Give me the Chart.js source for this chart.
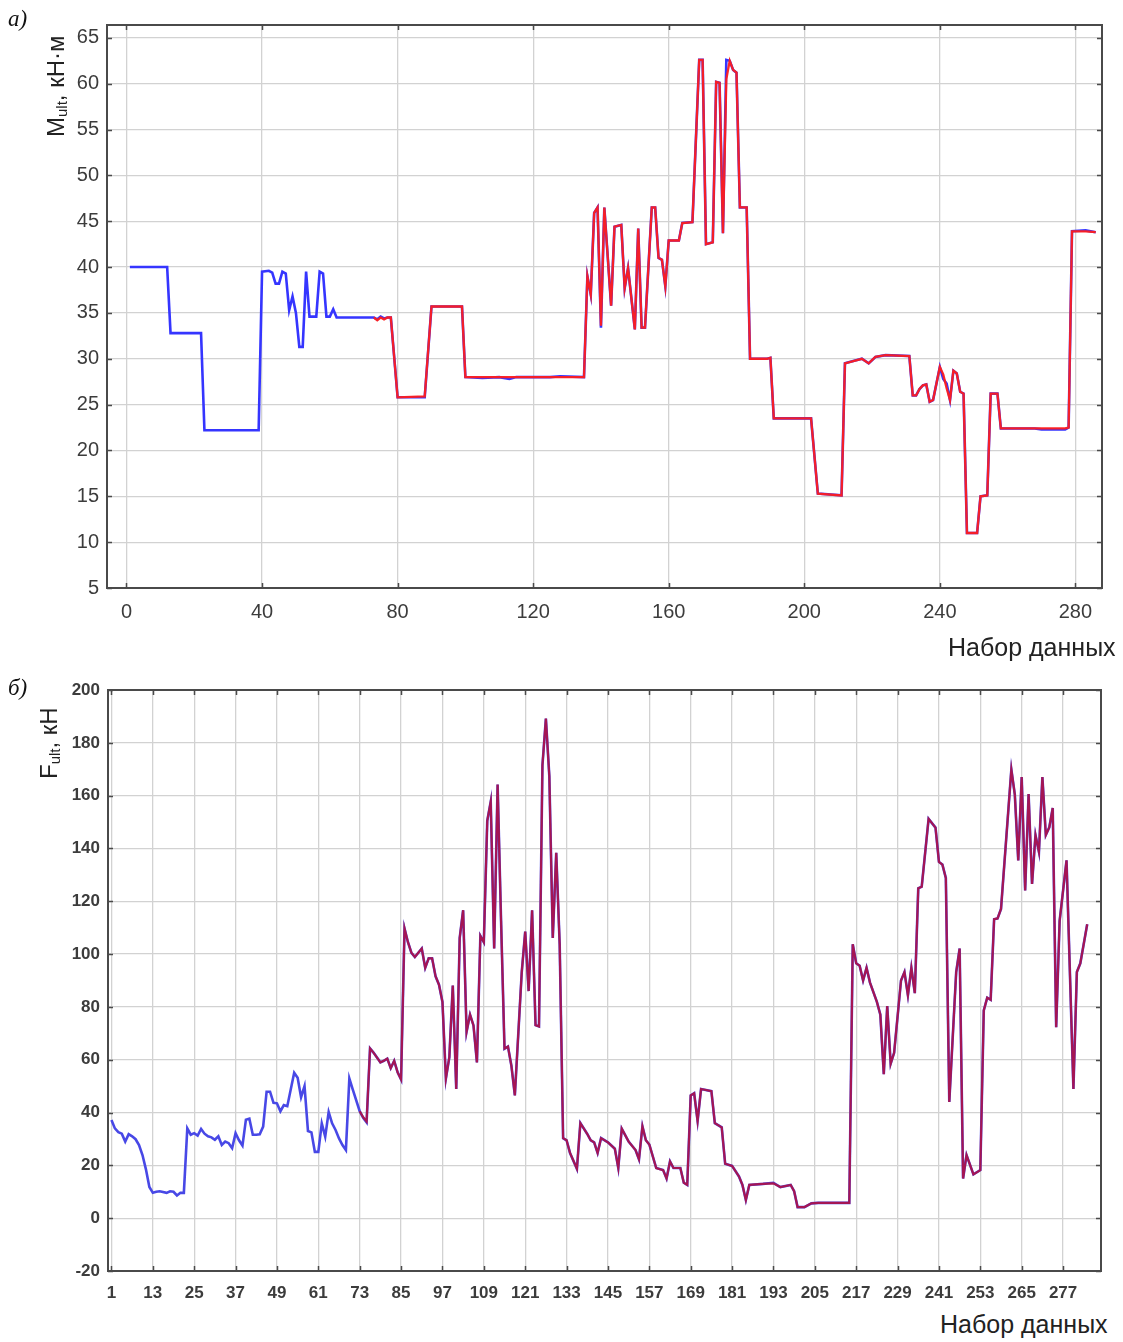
<!DOCTYPE html>
<html>
<head>
<meta charset="utf-8">
<script src="https://cdn.jsdelivr.net/npm/chart.js@4.4.1/dist/chart.umd.min.js"></script>
<style>
  html, body { margin: 0; padding: 0; background: #fff; width: 1123px; height: 1342px; overflow: hidden; position: relative;
    font-family: Arial, "Liberation Sans", sans-serif; }
  .box { position: absolute; left: 0; width: 1123px; }
  #boxA { top: 0; height: 640px; }
  #boxB { top: 665px; height: 640px; }
  .tag { position: absolute; font: italic 23px "Liberation Serif", "DejaVu Serif", serif; color: #111; }
  .ytitle { position: absolute; transform-origin: left top; transform: rotate(-90deg); white-space: nowrap;
    font-size: 24px; color: #222; line-height: 26px; }
  .ytitle sub { font-size: 15px; vertical-align: -3px; }
  .xtitle { position: absolute; white-space: nowrap; font-size: 25px; color: #222; }
</style>
</head>
<body>
<div class="box" id="boxA"><canvas id="chartA"></canvas></div>
<div class="box" id="boxB"><canvas id="chartB"></canvas></div>

<span class="tag" style="left:8px;top:6px">а)</span>
<span class="tag" style="left:8px;top:675px">б)</span>
<div class="ytitle" style="left:43px;top:137px">M<sub>ult</sub>, кН·м</div>
<div class="ytitle" style="left:36px;top:779px">F<sub>ult</sub>, кН</div>
<span class="xtitle" style="left:948px;top:633px">Набор данных</span>
<span class="xtitle" style="left:940px;top:1310px">Набор данных</span>

<script>
/* а) M_ult — experimental (blue) vs predicted (red), vertices [index, value] */
const XA_TICKS = [0, 40, 80, 120, 160, 200, 240, 280];
const YA_TICKS = [5, 10, 15, 20, 25, 30, 35, 40, 45, 50, 55, 60, 65];
const MA_ACTUAL = [
  [1,40.0],[12,40.0],[13,32.8],[22,32.8],[23,22.2],[39,22.2],[40,39.5],[42,39.6],[43,39.4],[44,38.2],
  [45,38.2],[46,39.5],[47,39.3],[48,35.3],[49,36.8],[50,35.0],[51,31.3],[52,31.3],[53,39.5],[54,34.6],
  [56,34.6],[57,39.5],[58,39.3],[59,34.6],[60,34.6],[61,35.4],[62,34.5],[72,34.5],
  [73,34.5],[74,34.3],[75,34.6],[76,34.4],[77,34.5],[78,34.5],[80,25.8],[88,25.8],[90,35.7],[99,35.7],
  [100,28.0],[105,27.9],[110,28.0],[113,27.8],[115,28.0],[125,28.0],[128,28.1],[135,28.0],[136,39.0],[137,37.0],
  [138,45.9],[139,46.5],[140,33.4],[141,46.5],[143,35.8],[144,44.4],[146,44.6],[147,37.7],[148,39.9],[150,33.2],
  [151,44.2],[152,33.4],[153,33.4],[155,46.5],[156,46.5],[157,41.0],[158,40.8],[159,37.9],[160,42.9],[163,42.9],
  [164,44.8],[167,44.9],[169,62.6],[170,62.6],[171,42.5],[173,42.7],[174,60.2],[175,60.1],[176,43.7],[177,62.6],
  [178,62.5],[179,61.5],[180,61.2],[181,46.5],[183,46.5],[184,30.0],[189,30.0],[190,30.1],[191,23.5],[202,23.5],
  [204,15.3],[211,15.1],[212,29.5],[215,29.8],[217,30.0],[219,29.5],[221,30.2],[224,30.4],[231,30.3],[232,26.0],
  [233,26.0],[234,26.7],[235,27.1],[236,27.2],[237,25.3],[238,25.5],[240,29.1],[241,27.8],[242,27.3],[243,25.5],
  [244,28.7],[245,28.4],[246,26.4],[247,26.2],[248,11.0],[251,11.0],[252,15.0],[254,15.1],[255,26.2],[257,26.2],
  [258,22.4],[268,22.4],[270,22.3],[277,22.3],[278,22.5],[279,43.9],[283,44.0],[286,43.8]
];
const MA_PRED = [
  [73,34.5],[74,34.2],[75,34.5],[76,34.3],[77,34.5],[78,34.5],[80,25.8],[88,25.9],[90,35.7],[99,35.7],
  [100,28.0],[105,28.0],[110,28.0],[113,28.0],[115,28.0],[125,28.0],[128,28.0],[135,28.0],[136,39.0],[137,37.0],
  [138,45.9],[139,46.5],[140,33.6],[141,46.5],[143,35.8],[144,44.4],[146,44.6],[147,37.7],[148,39.9],[150,33.2],
  [151,44.2],[152,33.4],[153,33.4],[155,46.5],[156,46.5],[157,41.0],[158,40.8],[159,37.9],[160,42.9],[163,42.9],
  [164,44.8],[167,44.9],[169,62.6],[170,62.6],[171,42.5],[173,42.7],[174,60.2],[175,60.1],[176,43.7],[177,60.5],
  [178,62.5],[179,61.5],[180,61.2],[181,46.5],[183,46.5],[184,30.0],[189,30.0],[190,30.1],[191,23.5],[202,23.5],
  [204,15.3],[211,15.1],[212,29.5],[215,29.8],[217,30.0],[219,29.5],[221,30.2],[224,30.4],[231,30.3],[232,26.0],
  [233,26.0],[234,26.7],[235,27.1],[236,27.2],[237,25.3],[238,25.5],[240,29.1],[241,28.3],[242,26.8],[243,25.5],
  [244,28.7],[245,28.4],[246,26.4],[247,26.2],[248,11.0],[251,11.0],[252,15.0],[254,15.1],[255,26.2],[257,26.2],
  [258,22.4],[268,22.4],[270,22.4],[277,22.4],[278,22.5],[279,43.9],[283,43.9],[286,43.8]
];

/* б) F_ult — experimental (blue) vs predicted (red) */
const XB_TICKS = [1, 13, 25, 37, 49, 61, 73, 85, 97, 109, 121, 133, 145, 157, 169, 181, 193, 205, 217, 229, 241, 253, 265, 277];
const YB_TICKS = [-20, 0, 20, 40, 60, 80, 100, 120, 140, 160, 180, 200];
const MB_ACTUAL = [
  [1,37.2],[2,34.0],[3,32.6],[4,32.0],[5,29.0],[6,31.8],[7,31.0],[8,29.9],[9,27.7],[10,23.9],
  [11,18.5],[12,11.8],[13,9.6],[14,10.0],[15,10.2],[17,9.6],[18,10.2],[19,10.0],[20,8.6],[21,9.6],
  [22,9.6],[23,34.0],[24,31.6],[25,32.2],[26,31.3],[27,33.8],[28,32.0],[29,31.0],[30,30.6],[31,29.7],
  [32,31.0],[33,27.7],[34,29.0],[35,28.4],[36,26.5],[37,32.2],[38,29.5],[39,27.5],[40,37.3],[41,37.7],
  [42,31.6],[43,31.6],[44,31.8],[45,34.7],[46,47.9],[47,47.9],[48,43.7],[49,43.5],[50,40.5],[51,42.8],
  [52,42.4],[54,55.1],[55,53.2],[56,45.8],[57,50.0],[58,33.0],[59,32.5],[60,25.1],[61,25.1],
  [62,35.9],[63,30.9],[64,40.2],[65,35.9],[66,33.4],[67,30.2],[68,27.7],[69,25.8],[70,52.9],[71,48.7],
  [73,40.5],[74,38.0],[75,36.3],[76,64.3],[77,62.7],[79,59.0],[80,59.6],[81,60.4],[82,56.8],[83,59.6],[84,55.2],
  [85,52.5],[86,109.7],[87,104.5],[88,100.5],[89,98.9],[90,100.5],[91,102.1],[92,94.8],[93,98.4],[94,98.4],
  [95,91.6],[96,88.4],[97,81.9],[98,52.9],[99,61.0],[100,88.1],[101,48.9],[102,106.1],[103,116.6],[104,70.6],
  [105,77.1],[106,73.0],[107,59.0],[108,106.9],[109,104.5],[110,150.5],[111,157.7],[112,102.1],[113,164.2],[114,112.6],
  [115,64.2],[116,65.0],[117,57.7],[118,46.5],[120,93.2],[121,108.5],[122,86.0],[123,116.6],[124,73.1],[125,72.6],
  [126,171.5],[127,189.2],[128,167.4],[129,106.1],[130,138.4],[131,103.7],[132,30.3],[133,29.5],[134,24.7],[136,18.7],
  [137,36.0],[139,31.9],[140,29.5],[141,28.7],[142,24.7],[143,30.3],[145,28.7],[147,26.3],[148,19.0],[149,33.9],
  [151,29.0],[153,25.8],[154,22.3],[155,34.8],[156,29.5],[157,27.9],[159,19.0],[161,18.2],[162,15.0],[163,21.5],
  [164,19.0],[166,19.0],[167,13.4],[168,12.6],[169,46.5],[170,47.3],[171,36.8],[172,48.9],[175,48.1],[176,36.0],
  [178,34.4],[179,20.6],[181,19.8],[183,15.8],[184,12.6],[185,6.9],[186,12.6],[190,13.0],[193,13.4],[195,11.8],
  [198,12.6],[199,10.2],[200,4.2],[202,4.2],[204,5.6],[206,5.8],[215,5.8],[216,103.7],[217,96.5],[218,95.6],
  [219,90.0],[220,94.8],[221,89.2],[223,81.9],[224,77.1],[225,54.5],[226,80.3],[227,58.5],[228,62.6],[230,90.0],
  [231,93.2],[232,84.4],[233,94.8],[234,85.2],[235,124.9],[236,125.5],[238,151.2],[240,147.9],[241,134.9],[242,133.9],
  [243,128.8],[244,44.0],[246,93.2],[247,102.1],[248,15.0],[249,23.9],[251,16.6],[253,18.2],[254,78.7],[255,83.5],
  [256,82.7],[257,113.2],[258,113.5],[259,117.1],[262,169.9],[263,160.5],[264,135.5],[265,167.0],[266,124.1],[267,160.6],
  [268,126.6],[269,145.1],[270,138.7],[271,167.0],[272,145.1],[273,148.0],[274,155.3],[275,72.3],[276,112.6],[278,135.5],
  [280,48.9],[281,93.2],[282,96.5],[284,111.3]
];
const MB_PRED = [
  [73,40.5],[74,38.3],[75,36.6],[76,64.3],[77,62.7],[79,59.0],[80,59.6],[81,60.4],[82,56.8],[83,59.6],[84,55.2],
  [85,52.5],[86,109.7],[87,104.5],[88,100.5],[89,98.9],[90,100.5],[91,102.1],[92,94.8],[93,98.4],[94,98.4],
  [95,91.6],[96,88.4],[97,81.9],[98,52.9],[99,61.0],[100,88.1],[101,48.9],[102,106.1],[103,116.6],[104,70.6],
  [105,77.1],[106,73.0],[107,59.0],[108,106.9],[109,104.5],[110,150.5],[111,157.7],[112,102.1],[113,164.2],[114,112.6],
  [115,64.2],[116,65.0],[117,57.7],[118,46.5],[120,93.2],[121,108.5],[122,86.0],[123,116.6],[124,73.1],[125,72.6],
  [126,171.5],[127,189.2],[128,167.4],[129,106.1],[130,138.4],[131,103.7],[132,30.3],[133,29.5],[134,24.7],[136,18.7],
  [137,36.0],[139,31.9],[140,29.5],[141,28.7],[142,24.7],[143,30.3],[145,28.7],[147,26.3],[148,19.0],[149,33.9],
  [151,29.0],[153,25.8],[154,22.3],[155,34.8],[156,29.5],[157,27.9],[159,19.0],[161,18.2],[162,15.0],[163,21.5],
  [164,19.0],[166,19.0],[167,13.4],[168,12.6],[169,46.5],[170,47.3],[171,36.8],[172,48.9],[175,48.1],[176,36.0],
  [178,34.4],[179,20.6],[181,19.8],[183,15.8],[184,12.6],[185,6.9],[186,12.6],[190,13.0],[193,13.2],[195,11.8],
  [198,12.6],[199,10.2],[200,4.2],[202,4.2],[204,5.6],[206,5.8],[215,5.8],[216,103.7],[217,96.5],[218,95.6],
  [219,90.0],[220,94.8],[221,89.2],[223,81.9],[224,77.1],[225,54.5],[226,80.3],[227,58.5],[228,62.6],[230,90.0],
  [231,93.2],[232,84.4],[233,94.8],[234,85.2],[235,124.9],[236,125.5],[238,151.2],[240,147.9],[241,134.9],[242,133.9],
  [243,128.8],[244,44.0],[246,93.2],[247,102.1],[248,15.0],[249,23.9],[251,16.6],[253,18.2],[254,78.7],[255,83.5],
  [256,82.7],[257,113.2],[258,113.5],[259,117.1],[262,169.9],[263,160.5],[264,135.5],[265,167.0],[266,124.1],[267,160.6],
  [268,126.6],[269,145.1],[270,138.7],[271,167.0],[272,145.1],[273,148.0],[274,155.3],[275,72.3],[276,112.6],[278,135.5],
  [280,48.9],[281,93.2],[282,96.5],[284,111.3]
];

// frame round the plot + short inward ticks at every gridline (Statistica look)
const framePlugin = {
  id: "frame",
  afterDatasetsDraw(chart) {
    const { ctx, chartArea: a, scales } = chart;
    ctx.save();
    ctx.strokeStyle = "#4a4a4a";
    ctx.lineWidth = 2;
    ctx.strokeRect(a.left, a.top, a.right - a.left, a.bottom - a.top);
    ctx.lineWidth = 1.5;
    ctx.beginPath();
    scales.x.ticks.forEach(t => {
      const px = Math.round(scales.x.getPixelForValue(t.value)) + 0.5;
      ctx.moveTo(px, a.bottom); ctx.lineTo(px, a.bottom - 5);
      ctx.moveTo(px, a.top); ctx.lineTo(px, a.top + 5);
    });
    scales.y.ticks.forEach(t => {
      const py = Math.round(scales.y.getPixelForValue(t.value)) + 0.5;
      ctx.moveTo(a.left, py); ctx.lineTo(a.left + 5, py);
      ctx.moveTo(a.right, py); ctx.lineTo(a.right - 5, py);
    });
    ctx.stroke();
    ctx.restore();
  },
};

const pts = list => list.map(p => ({ x: p[0], y: p[1] }));

function makeChart(id, cfg) {
  return new Chart(document.getElementById(id), {
    type: "line",
    data: {
      datasets: [
        // order: lower value is painted last, so the red prediction lies over the blue data
        { data: pts(cfg.actual), borderColor: cfg.blue, borderWidth: cfg.blueW, pointRadius: 0, tension: 0, order: 2 },
        { data: pts(cfg.pred), borderColor: cfg.red, borderWidth: cfg.redW, pointRadius: 0, tension: 0, order: 1 },
      ],
    },
    options: {
      responsive: true, maintainAspectRatio: false, animation: false,
      layout: { padding: { top: cfg.padTop, right: cfg.padRight, left: 0, bottom: 0 } },
      plugins: { legend: { display: false }, tooltip: { enabled: false } },
      scales: {
        x: {
          type: "linear", min: cfg.xMin, max: cfg.xMax,
          afterBuildTicks: s => { s.ticks = cfg.xTicks.map(v => ({ value: v })); },
          afterFit: s => { s.height = cfg.xAxisH; },
          grid: { color: "#d2d2d2", lineWidth: 1.3, drawTicks: false },
          border: { display: false },
          ticks: { color: "#3c3c3c", font: cfg.tickFont, padding: cfg.xPad, maxRotation: 0, autoSkip: false },
        },
        y: {
          min: cfg.yMin, max: cfg.yMax,
          afterBuildTicks: s => { s.ticks = cfg.yTicks.map(v => ({ value: v })); },
          afterFit: s => { s.width = cfg.yAxisW; },
          grid: { color: "#d2d2d2", lineWidth: 1.3, drawTicks: false },
          border: { display: false },
          ticks: { color: "#3c3c3c", font: cfg.tickFont, padding: 8 },
        },
      },
    },
    plugins: [framePlugin],
  });
}

makeChart("chartA", {
  actual: MA_ACTUAL, pred: MA_PRED,
  blue: "#3535ff", blueW: 2.6, red: "rgba(255,30,30,0.95)", redW: 2.3,
  xMin: -5.75, xMax: 287.85, yMin: 5, yMax: 66.4,
  xTicks: XA_TICKS, yTicks: YA_TICKS,
  padTop: 25, padRight: 21, xAxisH: 52, yAxisW: 107, xPad: 12,
  tickFont: { family: "Arial, 'Liberation Sans', sans-serif", size: 20 },
});

makeChart("chartB", {
  actual: MB_ACTUAL, pred: MB_PRED,
  blue: "#4848e6", blueW: 2.6, red: "rgba(185,10,50,0.82)", redW: 2.2,
  xMin: 0, xMax: 288, yMin: -20, yMax: 200,
  xTicks: XB_TICKS, yTicks: YB_TICKS,
  padTop: 25, padRight: 22, xAxisH: 34, yAxisW: 108, xPad: 12,
  tickFont: { family: "Arial, 'Liberation Sans', sans-serif", size: 17, weight: "bold" },
});
</script>
</body>
</html>
